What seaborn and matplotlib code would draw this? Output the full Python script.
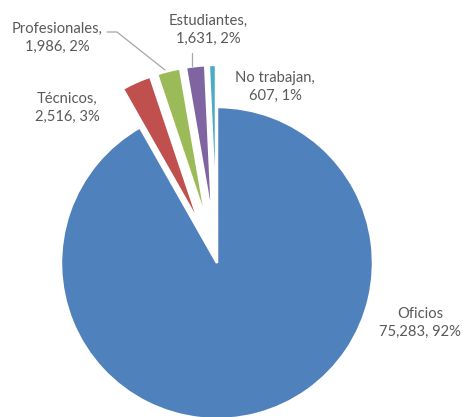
import matplotlib
matplotlib.use("Agg")
import matplotlib.pyplot as plt
import seaborn as sns

categories = ["Oficios", "Técnicos", "Profesionales", "Estudiantes", "No trabajan"]
values = [75283, 2516, 1986, 1631, 607]
percents = [92, 3, 2, 2, 1]
colors = ["#4F81BD", "#C0504D", "#9BBB59", "#8064A2", "#4BACC6"]
explode_frac = [0.0, 0.27, 0.27, 0.27, 0.27]

sns.set_theme(style="white")
plt.rcParams["font.family"] = ["Lato", "DejaVu Sans"]

W, H = 463, 417
fig = plt.figure(figsize=(W / 100, H / 100), dpi=100)
ax = fig.add_axes([0, 0, 1, 1])

cx, cy, r = 217, H - 263, 156
# matplotlib applies the explode offset in data units, so scale it by the radius
ax.pie(values, colors=colors, explode=[e * r for e in explode_frac],
       startangle=90, counterclock=False,
       center=(cx, cy), radius=r, frame=True,
       wedgeprops=dict(edgecolor="white", linewidth=1.8))
ax.set_xlim(0, W)
ax.set_ylim(0, H)
ax.set_aspect("equal")
ax.axis("off")

def fmt(i, sep=","):
    return f"{categories[i]}{sep}\n{values[i]:,}, {percents[i]}%"

label_pos = {
    0: (420, H - 323),
    1: (67, H - 108),
    2: (57, H - 38),
    3: (208, H - 30),
    4: (275, H - 87),
}
tcol = "#595959"
for i, (x, y) in label_pos.items():
    sep = "" if i == 0 else ","
    ax.text(x, y, fmt(i, sep), ha="center", va="center", fontsize=10.6,
            color=tcol, linespacing=1.35)

# leader lines for the two crowded labels
lc = "#A6A6A6"
ax.plot([107, 117, 165], [H - 32, H - 32, H - 70], color=lc, lw=0.9)
ax.plot([192, 192], [H - 53, H - 66], color=lc, lw=0.9)

fig.savefig("out.png", dpi=100, facecolor="white")
